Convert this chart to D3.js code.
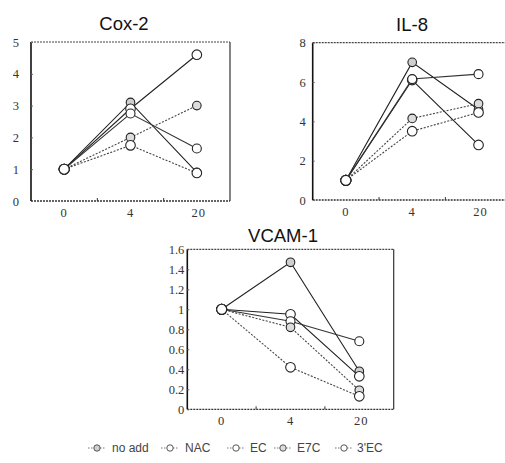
<!DOCTYPE html>
<html><head><meta charset="utf-8">
<script src="https://cdn.jsdelivr.net/npm/d3@7/dist/d3.min.js"></script>
<style>
body{margin:0;background:#fff;}
svg{display:block;}
</style></head>
<body>
<svg id="c" width="505" height="463"></svg>
<script>
const categories = ["0", "4", "20"];
const seriesNames = ["no add", "NAC", "EC", "E7C", "3'EC"];

const coxValues = [
  [1, 3.1, 0.9],
  [1, 2.9, 4.6],
  [1, 2.75, 1.65],
  [1, 2.0, 3.0],
  [1, 1.75, 0.88]
];
const il8Values = [
  [1, 7.0, 4.6],
  [1, 6.1, 2.8],
  [1, 6.15, 6.4],
  [1, 4.15, 4.9],
  [1, 3.5, 4.45]
];
const vcamValues = [
  [1, 1.47, 0.38],
  [1, 0.95, 0.33],
  [1, 0.88, 0.68],
  [1, 0.82, 0.19],
  [1, 0.42, 0.13]
];
const coxTicks = [0, 1, 2, 3, 4, 5];
const il8Ticks = [0, 2, 4, 6, 8];
const vcamTicks = [0, 0.2, 0.4, 0.6, 0.8, 1, 1.2, 1.4, 1.6];

const svg = d3.select("#c");
const serif = "'Liberation Serif','DejaVu Serif',serif";
const sans = "'Liberation Sans',Arial,sans-serif";

const styleFor = {
  "no add": {dash: null, color: "#222", fill: "#cfcfcf", r: 4.3},
  "NAC":    {dash: null, color: "#222", fill: "#fff", r: 4.8},
  "EC":     {dash: null, color: "#333", fill: "#fff", r: 4.5},
  "E7C":    {dash: "2,1.5", color: "#444", fill: "#dcdcdc", r: 4.3},
  "3'EC":   {dash: "2,1.5", color: "#444", fill: "#fff", r: 4.8}
};

function panel(cfg) {
  const x = d3.scaleBand().domain(categories).range([cfg.x0, cfg.x1]);
  const y = d3.scaleLinear().domain(cfg.domain).range([cfg.y1, cfg.y0]);
  const g = svg.append("g");
  // frame: top & right dotted, bottom dotted
  g.append("line").attr("x1", cfg.x0).attr("x2", cfg.x1).attr("y1", cfg.y0).attr("y2", cfg.y0)
    .attr("stroke", "#444").attr("stroke-width", 1.2).attr("stroke-dasharray", "2,1");
  g.append("line").attr("x1", cfg.x1).attr("x2", cfg.x1).attr("y1", cfg.y0).attr("y2", cfg.y1)
    .attr("stroke", "#333").attr("stroke-width", 1.2);
  g.append("line").attr("x1", cfg.x0).attr("x2", cfg.x1).attr("y1", cfg.y1).attr("y2", cfg.y1)
    .attr("stroke", "#333").attr("stroke-width", 1.3).attr("stroke-dasharray", "2,1");
  g.append("line").attr("x1", cfg.x0).attr("x2", cfg.x0).attr("y1", cfg.y0).attr("y2", cfg.y1)
    .attr("stroke", "#111").attr("stroke-width", 1.6);
  // y ticks (inward)
  const yAxis = d3.axisLeft(y).tickValues(cfg.ticks).tickSize(-2).tickPadding(cfg.pad)
    .tickFormat(d3.format("~g"));
  const ya = g.append("g").attr("transform", `translate(${cfg.x0},0)`).call(yAxis);
  ya.select(".domain").remove();
  ya.selectAll("line").attr("stroke", "#666");
  ya.selectAll("text").attr("font-family", serif).attr("font-size", 12.5).attr("fill", "#333");
  // x axis: ticks at band boundaries
  const bounds = categories.slice(1).map(c => x(c));
  g.selectAll(".xb").data(bounds).join("line")
    .attr("x1", d => d).attr("x2", d => d).attr("y1", cfg.y1).attr("y2", cfg.y1 - 3)
    .attr("stroke", "#333");
  g.selectAll(".xl").data(categories).join("text")
    .attr("x", d => x(d) + x.bandwidth() / 2 + (d === "20" ? 2 : 0))
    .attr("y", cfg.y1 + 16)
    .attr("text-anchor", "middle").attr("font-family", serif).attr("font-size", 12.5)
    .attr("fill", "#333").attr("letter-spacing", 1).text(d => d);
  // title
  g.append("text").attr("x", cfg.tx).attr("y", cfg.ty).attr("text-anchor", "middle")
    .attr("font-family", sans).attr("font-size", 18.5).attr("fill", "#111")
    .text(cfg.title);
  // lines
  const line = d3.line().x((d, i) => x(categories[i]) + x.bandwidth() / 2).y(d => y(d));
  cfg.values.forEach((vals, si) => {
    const st = styleFor[seriesNames[si]];
    g.append("path").attr("d", line(vals)).attr("fill", "none")
      .attr("stroke", st.color).attr("stroke-width", 1.1)
      .attr("stroke-dasharray", st.dash);
  });
  cfg.values.forEach((vals, si) => {
    const st = styleFor[seriesNames[si]];
    g.selectAll(null).data(vals).join("circle")
      .attr("cx", (d, i) => x(categories[i]) + x.bandwidth() / 2)
      .attr("cy", d => y(d))
      .attr("r", (d, i) => i === 0 ? 5 : st.r)
      .attr("fill", (d, i) => i === 0 ? "#fff" : st.fill)
      .attr("stroke", "#222").attr("stroke-width", 1.1);
  });
}

panel({title: "Cox-2", values: coxValues, domain: [0, 5], ticks: coxTicks,
  x0: 31, x1: 230, y0: 42, y1: 201, pad: 12, tx: 124, ty: 30});
panel({title: "IL-8", values: il8Values, domain: [0, 8], ticks: il8Ticks,
  x0: 312.7, x1: 511.7, y0: 42.7, y1: 200, pad: 7, tx: 412, ty: 31});
panel({title: "VCAM-1", values: vcamValues, domain: [0, 1.6], ticks: vcamTicks,
  x0: 187.3, x1: 393.7, y0: 249.3, y1: 409.3, pad: 3, tx: 283, ty: 242});

// legend
const legX = [97, 170, 236, 283, 344];
const legTextX = [112, 185, 250, 297, 357];
const lg = svg.append("g");
seriesNames.forEach((name, i) => {
  const st = styleFor[name];
  lg.append("line").attr("x1", legX[i] - 9).attr("x2", legX[i] + 9)
    .attr("y1", 448).attr("y2", 448).attr("stroke", "#777").attr("stroke-width", 1)
    .attr("stroke-dasharray", "1.5,1.5");
  lg.append("circle").attr("cx", legX[i]).attr("cy", 448).attr("r", 3.2)
    .attr("fill", st.fill).attr("stroke", "#555").attr("stroke-width", 1);
  lg.append("text").attr("x", legTextX[i]).attr("y", 452)
    .attr("font-family", sans).attr("font-size", 12).attr("fill", "#444")
    .text(name);
});
</script>
</body></html>
